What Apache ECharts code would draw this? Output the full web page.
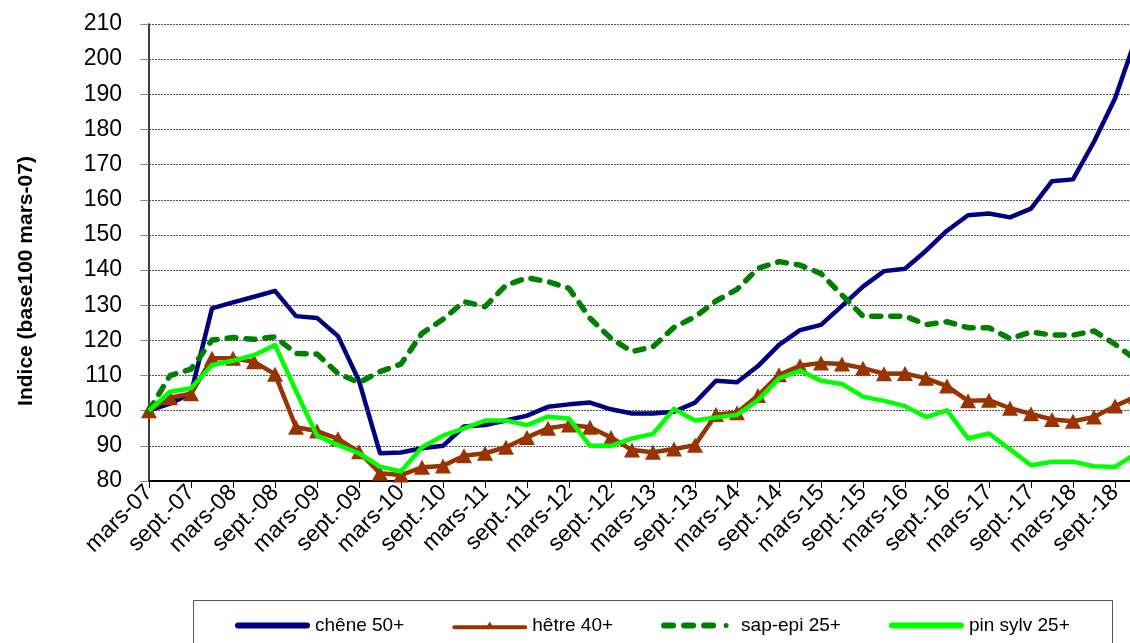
<!DOCTYPE html>
<html>
<head>
<meta charset="utf-8">
<script src="https://cdn.jsdelivr.net/npm/echarts@6/dist/echarts.min.js"></script>
<style>
html,body{margin:0;padding:0;background:#fff;overflow:hidden;width:1130px;height:643px;}
#chart{width:1136px;height:643px;}
</style>
</head>
<body>
<div id="chart"></div>
<script>
var categories = [
  'mars-07','juin-07','sept.-07','déc.-07',
  'mars-08','juin-08','sept.-08','déc.-08',
  'mars-09','juin-09','sept.-09','déc.-09',
  'mars-10','juin-10','sept.-10','déc.-10',
  'mars-11','juin-11','sept.-11','déc.-11',
  'mars-12','juin-12','sept.-12','déc.-12',
  'mars-13','juin-13','sept.-13','déc.-13',
  'mars-14','juin-14','sept.-14','déc.-14',
  'mars-15','juin-15','sept.-15','déc.-15',
  'mars-16','juin-16','sept.-16','déc.-16',
  'mars-17','juin-17','sept.-17','déc.-17',
  'mars-18','juin-18','sept.-18','déc.-18'
];
var seriesNames = ['chêne 50+', 'hêtre 40+', 'sap-epi 25+', 'pin sylv 25+'];
var chene = [100, 102, 105, 129.1, 130.8, 132.4, 134.1, 126.9, 126.4, 121.2, 108.5, 87.9,
  88.1, 89.3, 90.0, 95.5, 95.9, 97.2, 98.6, 101.1, 101.8, 102.3, 100.4, 99.2,
  99.2, 99.7, 102.3, 108.5, 108.1, 112.7, 118.7, 122.9, 124.4, 129.8, 135.3, 139.7,
  140.4, 145.5, 151.2, 155.6, 156.1, 155.0, 157.5, 165.3, 165.8, 176.5, 188.8, 206];
var hetre = [100, 103.7, 104.8, 114.9, 114.9, 113.9, 110.4, 95.3, 94.2, 92, 88.3, 82.2,
  81.7, 83.9, 84.3, 87.2, 87.9, 89.6, 92.4, 95, 95.9, 95.3, 92.4, 88.8,
  88.2, 89.1, 90.2, 98.9, 99.4, 104.3, 110.2, 112.8, 113.6, 113.3, 112.1, 110.5,
  110.6, 109.2, 107, 102.8, 103, 100.7, 99.1, 97.5, 97, 98.2, 101.3, 104];
var sapepi = [100, 110, 111.8, 120.1, 120.8, 120.3, 121, 116.3, 116.1, 110.6, 108, 111.1,
  113.3, 122, 126, 131, 129.6, 135.7, 137.8, 136.7, 134.8, 126.3, 120.6, 116.8,
  118.2, 123.7, 126.7, 131.2, 134.5, 140.5, 142.4, 141.4, 139, 132.9, 126.9, 126.9,
  126.9, 124.5, 125.3, 123.6, 123.6, 120.5, 122.4, 121.5, 121.5, 122.7, 118.9, 114.5];
var pin = [100, 105.4, 106.4, 113, 114.2, 115.8, 118.7, 105.6, 92.9, 90.2, 87.9, 84.1,
  82.7, 89.6, 92.9, 95, 97.2, 97.2, 95.9, 98.3, 97.8, 90, 90, 92.1,
  93.4, 100.5, 97.2, 98.1, 98.8, 103, 109.2, 111.4, 108.5, 107.6, 104, 102.8,
  101.3, 98.2, 100.1, 92.1, 93.5, 89, 84.5, 85.5, 85.5, 84.2, 84, 87.8];
var yAxisTitle = 'Indice (base100 mars-07)';

var FONT = '"Liberation Sans", Arial, sans-serif';
var solidIcon = 'path://M3,0h69a3,3 0 0 1 0,6h-69a3,3 0 0 1 0,-6z';
var dashIcon = 'path://M3,0h9a3,3 0 0 1 0,6h-9a3,3 0 0 1 0,-6z M23,0h9a3,3 0 0 1 0,6h-9a3,3 0 0 1 0,-6z M43,0h9a3,3 0 0 1 0,6h-9a3,3 0 0 1 0,-6z M65,0.5a2.5,2.5 0 1 1 0,5a2.5,2.5 0 1 1 0,-5z M75,0h0v6h0z';
var triIcon = 'path://M3,3.5h69a2,2 0 0 1 0,4h-69a2,2 0 0 1 0,-4z M37.5,0l4,6h-8z';

var chart = echarts.init(document.getElementById('chart'), null, {renderer: 'canvas'});
var option = {
  backgroundColor: '#ffffff',
  animation: false,
  textStyle: {fontFamily: FONT},
  grid: {left: 149, right: 0, top: 24, bottom: 162, containLabel: false},
  legend: {
    left: 230, top: 611,
    itemWidth: 75, itemHeight: 14, itemGap: 48,
    textStyle: {fontFamily: FONT, fontSize: 19, color: '#000'},
    data: [
      {name: seriesNames[0], icon: solidIcon},
      {name: seriesNames[1], icon: triIcon},
      {name: seriesNames[2], icon: dashIcon},
      {name: seriesNames[3], icon: solidIcon}
    ],
    symbolKeepAspect: true
  },
  graphic: [
    {type: 'rect', left: 191, top: 598, shape: {x: 0, y: 0, width: 919, height: 70},
     style: {fill: 'none', stroke: '#555', lineWidth: 1}, z: -1},
    {type: 'text', x: 26, y: 281, rotation: Math.PI / 2,
     style: {text: yAxisTitle, font: 'bold 21px ' + FONT, fill: '#000',
             align: 'center', verticalAlign: 'middle'}}
  ],
  xAxis: {
    type: 'category',
    data: categories,
    boundaryGap: false,
    axisLine: {lineStyle: {color: '#000', width: 2}},
    axisTick: {show: true, interval: 1, length: 7, lineStyle: {color: '#000', width: 1}},
    axisLabel: {interval: 1, rotate: 45, fontSize: 23, color: '#000', margin: 8, fontFamily: FONT},
    splitLine: {show: false}
  },
  yAxis: {
    type: 'value',
    min: 80, max: 210, interval: 10,
    axisLine: {show: true, lineStyle: {color: '#000', width: 1.5}},
    axisTick: {show: true, length: 9, lineStyle: {color: '#888', width: 1}},
    axisLabel: {fontSize: 23, color: '#000', margin: 27, fontFamily: FONT},
    splitLine: {show: true, lineStyle: {color: '#555', width: 1, type: [2, 1]}}
  },
  series: [
    {name: seriesNames[0], type: 'line', data: chene, symbol: 'none',
     lineStyle: {color: '#000080', width: 4.5, join: 'round'}, itemStyle: {color: '#000080'}, z: 2},
    {name: seriesNames[1], type: 'line', data: hetre, symbol: 'triangle', symbolSize: [16, 15],
     showAllSymbol: true,
     lineStyle: {color: '#993300', width: 4.5, join: 'round'}, itemStyle: {color: '#993300'}, z: 3},
    {name: seriesNames[2], type: 'line', data: sapepi, symbol: 'none',
     lineStyle: {color: '#008000', width: 5.5, type: [9, 10], cap: 'round', join: 'round'},
     itemStyle: {color: '#008000'}, z: 4},
    {name: seriesNames[3], type: 'line', data: pin, symbol: 'none',
     lineStyle: {color: '#00ff00', width: 4.5, join: 'round'}, itemStyle: {color: '#00ff00'}, z: 5}
  ]
};
chart.setOption(option);
</script>
</body>
</html>
